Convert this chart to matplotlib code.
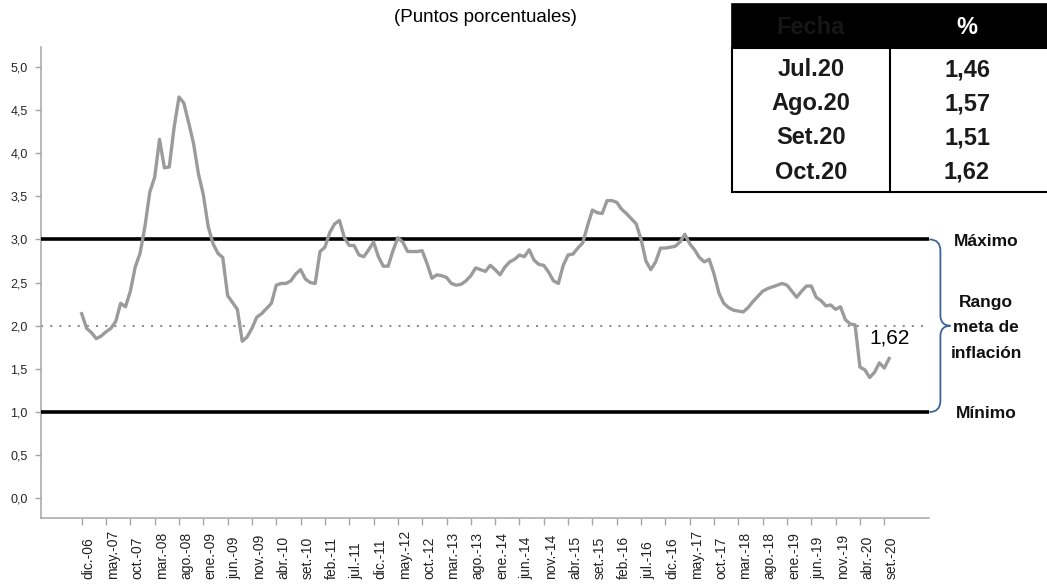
import matplotlib
matplotlib.use('Agg')
import matplotlib.pyplot as plt
import matplotlib.transforms as mtransforms
from matplotlib.path import Path
from matplotlib.patches import PathPatch, Rectangle
import numpy as np

plt.rcParams['font.family'] = ['Liberation Sans', 'DejaVu Sans']

# Monthly values, dic-06 ... oct-20 (percentage points)
values = [
    2.14, 1.97, 1.92, 1.85, 1.88, 1.93, 1.97, 2.05, 2.26, 2.22,   # dic06-set07
    2.40, 2.68, 2.84, 3.15, 3.55, 3.72, 4.16, 3.83, 3.84, 4.30,   # oct07-jul08
    4.65, 4.58, 4.35, 4.11, 3.76, 3.52, 3.15, 2.95, 2.84, 2.79,   # ago08-may09
    2.35, 2.27, 2.19, 1.82, 1.87, 1.97, 2.10, 2.14, 2.20, 2.26,   # jun09-mar10
    2.47, 2.49, 2.49, 2.52, 2.60, 2.65, 2.54, 2.50, 2.49, 2.86,   # abr10-ene11
    2.91, 3.08, 3.18, 3.22, 3.02, 2.93, 2.93, 2.82, 2.80, 2.88,   # feb11-nov11
    2.97, 2.80, 2.69, 2.69, 2.87, 3.02, 2.97, 2.86, 2.86, 2.86,   # dic11-set12
    2.87, 2.72, 2.55, 2.59, 2.58, 2.56, 2.49, 2.47, 2.48, 2.52,   # oct12-jul13
    2.58, 2.67, 2.65, 2.63, 2.70, 2.65, 2.59, 2.68, 2.74, 2.77,   # ago13-may14
    2.82, 2.80, 2.88, 2.76, 2.71, 2.70, 2.62, 2.52, 2.49, 2.70,   # jun14-mar15
    2.82, 2.83, 2.90, 2.96, 3.16, 3.34, 3.31, 3.30, 3.45, 3.45,   # abr15-ene16
    3.43, 3.35, 3.30, 3.24, 3.18, 3.00, 2.75, 2.65, 2.74, 2.90,   # feb16-nov16
    2.90, 2.91, 2.92, 2.97, 3.06, 2.95, 2.88, 2.79, 2.74, 2.77,   # dic16-set17
    2.60, 2.38, 2.26, 2.21, 2.18, 2.17, 2.16, 2.21, 2.28, 2.34,   # oct17-jul18
    2.40, 2.43, 2.45, 2.47, 2.49, 2.47, 2.40, 2.33, 2.40, 2.46,   # ago18-may19
    2.46, 2.33, 2.29, 2.23, 2.24, 2.19, 2.22, 2.07, 2.02, 2.01,   # jun19-mar20
    1.52, 1.49, 1.40, 1.46, 1.57, 1.51, 1.62,                     # abr20-oct20
]

tick_labels = [
    'dic.-06', 'may.-07', 'oct.-07', 'mar.-08', 'ago.-08', 'ene.-09', 'jun.-09',
    'nov.-09', 'abr.-10', 'set.-10', 'feb.-11', 'jul.-11', 'dic.-11', 'may.-12',
    'oct.-12', 'mar.-13', 'ago.-13', 'ene.-14', 'jun.-14', 'nov.-14', 'abr.-15',
    'set.-15', 'feb.-16', 'jul.-16', 'dic.-16', 'may.-17', 'oct.-17', 'mar.-18',
    'ago.-18', 'ene.-19', 'jun.-19', 'nov.-19', 'abr.-20', 'set.-20',
]
tick_step = 5

yticks = [0.0, 0.5, 1.0, 1.5, 2.0, 2.5, 3.0, 3.5, 4.0, 4.5, 5.0]
ytick_labels = ['0,0', '0,5', '1,0', '1,5', '2,0', '2,5', '3,0', '3,5', '4,0', '4,5', '5,0']

band_max = 3.0
band_min = 1.0
target = 2.0
last_label = '1,62'

table_header = ['Fecha', '%']
table_dates = ['Jul.20', 'Ago.20', 'Set.20', 'Oct.20']
table_values = ['1,46', '1,57', '1,51', '1,62']

title = '(Puntos porcentuales)'

# ---------------------------------------------------------------
W, H = 1047, 584
fig = plt.figure(figsize=(W / 100, H / 100), dpi=100)


def fx(px):
    return px / W


def fy(py):
    return 1 - py / H


ax = fig.add_axes([fx(41), fy(518), fx(929.3) - fx(41), fy(47) - fy(518)])

x = np.arange(len(values))
ax.plot(x, values, color='#9b9b9b', lw=2.4, solid_joinstyle='round', zorder=4)
ax.axhline(band_max, color='black', lw=2.6, zorder=3)
ax.axhline(band_min, color='black', lw=2.6, zorder=3)
ax.axhline(target, color='#8f8f8f', lw=1.5, ls=(0, (1, 3.4)), zorder=2)

ax.set_xlim(-8.37, 174.26)
ax.set_ylim(-0.228, 5.23)

for s in ['top', 'right']:
    ax.spines[s].set_visible(False)
for s in ['left', 'bottom']:
    ax.spines[s].set_color('#a6a6a6')
    ax.spines[s].set_linewidth(1.1)

ax.set_yticks(yticks)
ax.set_yticklabels(ytick_labels, fontsize=9, color='#262626')
ax.tick_params(axis='y', length=4.5, width=1.0, color='#a6a6a6', pad=5)

ticks = x[::tick_step]
ax.set_xticks(ticks)
ax.set_xticklabels([])
ax.tick_params(axis='x', length=5, width=1.0, color='#a6a6a6')

offset = mtransforms.ScaledTranslation(7 / 100, 0, fig.dpi_scale_trans)
trans = mtransforms.blended_transform_factory(ax.transData, fig.transFigure) + offset
for pos, lab in zip(ticks, tick_labels):
    ax.text(pos, 5 / H, lab, transform=trans, rotation=90, ha='center', va='bottom',
            fontsize=10, color='#222222', clip_on=False)

ax.annotate(last_label, xy=(x[-1], values[-1]), xytext=(0.5, 14.5),
            textcoords='offset points', ha='center', va='center', fontsize=15,
            color='black')

# brace on the right
btr = mtransforms.blended_transform_factory(ax.transAxes, ax.transData)
verts = [
    (1.0, band_max), (1.0125, band_max), (1.0125, 2.87),
    (1.0125, 2.12),
    (1.0125, 2.0), (1.0238, 2.0),
    (1.0125, 2.0), (1.0125, 1.88),
    (1.0125, 1.13),
    (1.0125, band_min), (1.0, band_min),
]
codes = [Path.MOVETO, Path.CURVE3, Path.CURVE3, Path.LINETO,
         Path.CURVE3, Path.CURVE3, Path.CURVE3, Path.CURVE3,
         Path.LINETO, Path.CURVE3, Path.CURVE3]
brace = PathPatch(Path(verts, codes), transform=btr, fill=False,
                  edgecolor='#3d64a0', lw=1.3, clip_on=False)
ax.add_patch(brace)

fig.text(fx(986), fy(242), 'Máximo', ha='center', va='center', fontsize=12.5,
         fontweight='bold', color='#111111')
fig.text(fx(986), fy(328), 'Rango\nmeta de\ninflación', ha='center', va='center',
         multialignment='center', fontsize=12.5, fontweight='bold', color='#111111',
         linespacing=1.9)
fig.text(fx(986), fy(414), 'Mínimo', ha='center', va='center', fontsize=12.5,
         fontweight='bold', color='#111111')

# title
fig.text(fx(485), fy(18), title, ha='center', va='center', fontsize=13.5, color='black')

# table (top right)
tl, tr, tdiv = 732, 1052, 890
ttop, thead, tbot = 4, 48, 192
fig.patches.append(Rectangle((fx(tl), fy(thead)), fx(tr) - fx(tl), fy(ttop) - fy(thead),
                             transform=fig.transFigure, facecolor='black', edgecolor='black',
                             lw=1.2))
fig.patches.append(Rectangle((fx(tl), fy(tbot)), fx(tr) - fx(tl), fy(thead) - fy(tbot),
                             transform=fig.transFigure, facecolor='white', edgecolor='black',
                             lw=1.5))
fig.lines.append(plt.Line2D([fx(tdiv), fx(tdiv)], [fy(thead), fy(tbot)],
                            transform=fig.transFigure, color='black', lw=1.5))
col1, col2 = 811, 967
fig.text(fx(col1), fy(27), table_header[0], ha='center', va='center', fontsize=17,
         fontweight='bold', color='#161616')
fig.text(fx(col2), fy(27), table_header[1], ha='center', va='center', fontsize=17,
         fontweight='bold', color='white')
row_y = [70, 103.5, 137.5, 172]
for ry, d, v in zip(row_y, table_dates, table_values):
    fig.text(fx(col1), fy(ry), d, ha='center', va='center', fontsize=17,
             fontweight='bold', color='#1a1a1a')
    fig.text(fx(col2), fy(ry), v, ha='center', va='center', fontsize=17,
             fontweight='bold', color='#1a1a1a')

fig.savefig('out.png', dpi=100)
